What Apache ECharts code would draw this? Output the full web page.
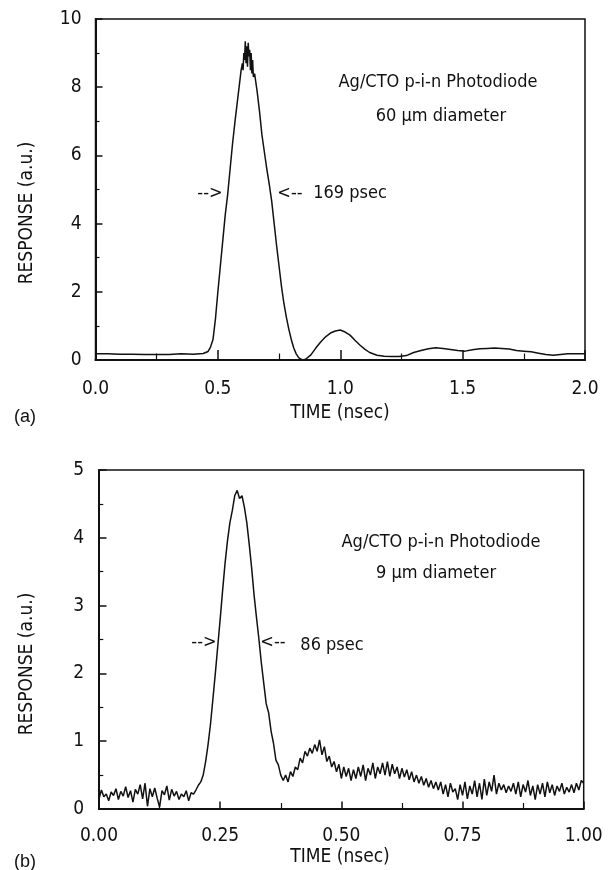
<!DOCTYPE html>
<html>
<head>
<meta charset="utf-8">
<script src="https://cdn.jsdelivr.net/npm/echarts@6/dist/echarts.min.js"></script>
<style>
html,body{margin:0;padding:0;background:#fff;}
#chart{width:608px;height:870px;}
</style>
</head>
<body>
<div id="chart"></div>
<script>
// ---- Panel (a): 60 um diameter ----
var timeA = [0, 0.05, 0.10, 0.15, 0.20, 0.25, 0.30, 0.35, 0.40, 0.44, 0.46, 0.47, 0.48, 0.49, 0.50, 0.51, 0.52, 0.53, 0.54, 0.55, 0.56, 0.57, 0.58, 0.59, 0.595, 0.60, 0.603, 0.606, 0.609, 0.612, 0.615, 0.618, 0.621, 0.624, 0.627, 0.630, 0.633, 0.636, 0.639, 0.642, 0.645, 0.65, 0.66, 0.67, 0.68, 0.69, 0.70, 0.71, 0.72, 0.73, 0.74, 0.75, 0.76, 0.77, 0.78, 0.79, 0.80, 0.81, 0.82, 0.83, 0.84, 0.85, 0.86, 0.88, 0.90, 0.92, 0.94, 0.96, 0.98, 1.00, 1.02, 1.04, 1.06, 1.08, 1.10, 1.12, 1.15, 1.18, 1.21, 1.24, 1.27, 1.30, 1.33, 1.36, 1.39, 1.42, 1.45, 1.48, 1.51, 1.54, 1.57, 1.60, 1.63, 1.66, 1.69, 1.72, 1.75, 1.78, 1.81, 1.84, 1.87, 1.90, 1.93, 1.96, 2.00];
var respA = [0.18, 0.18, 0.17, 0.17, 0.16, 0.16, 0.16, 0.18, 0.17, 0.19, 0.25, 0.38, 0.6, 1.2, 2.0, 2.75, 3.5, 4.25, 4.85, 5.6, 6.35, 7.0, 7.6, 8.2, 8.5, 8.7, 8.5, 9.0, 8.8, 9.35, 8.7, 9.2, 8.6, 9.3, 8.9, 9.1, 8.5, 9.0, 8.4, 8.8, 8.3, 8.4, 7.9, 7.3, 6.6, 6.1, 5.6, 5.15, 4.65, 4.0, 3.35, 2.75, 2.15, 1.65, 1.25, 0.9, 0.6, 0.35, 0.18, 0.07, 0.02, 0.0, 0.03, 0.15, 0.35, 0.53, 0.68, 0.79, 0.85, 0.88, 0.82, 0.73, 0.58, 0.44, 0.32, 0.22, 0.14, 0.11, 0.1, 0.1, 0.13, 0.22, 0.28, 0.33, 0.36, 0.34, 0.31, 0.28, 0.26, 0.3, 0.33, 0.34, 0.35, 0.34, 0.32, 0.28, 0.26, 0.24, 0.2, 0.16, 0.14, 0.16, 0.18, 0.18, 0.18];
var xTicksA = [0, 2, 0.5];   // min, max, interval
var yTicksA = [0, 10, 2];

// ---- Panel (b): 9 um diameter (samples every 0.005 ns from 0 to 1.0) ----
var stepB = 0.005;
var respB = [
  0.15,0.28,0.18,0.22,0.12,0.25,0.20,0.30,0.14,0.26,
  0.19,0.33,0.17,0.27,0.10,0.29,0.22,0.36,0.15,0.38,
  0.04,0.30,0.18,0.31,0.16,0.03,0.27,0.21,0.34,0.13,
  0.29,0.19,0.26,0.14,0.22,0.18,0.27,0.12,0.24,0.22,
  0.28,0.35,0.40,0.50,0.70,0.95,1.25,1.62,2.00,2.40,
  2.80,3.22,3.62,3.95,4.22,4.40,4.62,4.70,4.58,4.62,
  4.45,4.22,3.90,3.55,3.15,2.82,2.50,2.15,1.85,1.55,
  1.42,1.15,0.97,0.72,0.65,0.50,0.42,
  0.50,0.40,0.55,0.48,0.62,0.58,0.75,0.68,0.85,0.78,
  0.90,0.82,0.95,0.85,1.02,0.80,0.92,0.70,0.78,0.62,
  0.70,0.55,0.66,0.45,0.62,0.48,0.60,0.42,0.58,
  0.45,0.62,0.48,0.65,0.42,0.60,0.50,0.68,0.45,0.62,
  0.52,0.68,0.50,0.70,0.48,0.66,0.52,0.62,0.45,0.60,
  0.47,0.58,0.43,0.55,0.40,0.50,0.38,0.48,0.35,0.45,
  0.32,0.42,0.30,0.40,0.28,
  0.40,0.22,0.36,0.18,0.38,0.25,0.30,0.14,0.36,0.20,
  0.40,0.15,0.34,0.22,0.42,0.18,0.38,0.14,0.44,0.20,
  0.40,0.26,0.50,0.22,0.38,0.28,0.36,0.24,0.34,0.26,
  0.38,0.22,0.40,0.18,0.36,0.25,0.42,0.20,0.34,0.14,
  0.36,0.22,0.38,0.18,0.40,0.24,0.36,0.20,0.34,0.26,
  0.38,0.22,0.32,0.25,0.36,0.24,0.38,0.28,0.42,0.38
];
var xTicksB = [0, 1, 0.25];
var yTicksB = [0, 5, 1];

var labelA = ['Ag/CTO p-i-n Photodiode', '60 \u00b5m diameter', '169 psec', '(a)'];
var labelB = ['Ag/CTO p-i-n Photodiode', '9 \u00b5m diameter', '86 psec', '(b)'];
var xName = 'TIME (nsec)';
var yName = 'RESPONSE (a.u.)';

var dataA = timeA.map(function (t, i) { return [t, respA[i]]; });
var dataB = respB.map(function (v, i) { return [+(i * stepB).toFixed(3), v]; });

var FONT = "'Liberation Sans Narrow', 'DejaVu Sans Condensed', 'Arial Narrow', 'Liberation Sans', sans-serif";
var INK = '#111';

function xAxisCfg(gi, tk, dec, margin, majLen, minLen) {
  return {
    gridIndex: gi, type: 'value', min: tk[0], max: tk[1], interval: tk[2],
    axisLine: { show: true, onZero: false, lineStyle: { color: INK, width: 2 } },
    axisTick: { show: true, inside: true, length: majLen, lineStyle: { color: INK, width: 1.5 } },
    minorTick: { show: true, splitNumber: 2, length: minLen, lineStyle: { color: INK, width: 1.2 } },
    splitLine: { show: false },
    axisLabel: { color: INK, fontSize: 19, fontFamily: FONT, margin: margin,
      formatter: function (v) { return v.toFixed(dec); } }
  };
}
function yAxisCfg(gi, tk, margin, majLen, minLen) {
  return {
    gridIndex: gi, type: 'value', min: tk[0], max: tk[1], interval: tk[2],
    axisLine: { show: true, onZero: false, lineStyle: { color: INK, width: 2 } },
    axisTick: { show: true, inside: true, length: majLen, lineStyle: { color: INK, width: 1.5 } },
    minorTick: { show: true, splitNumber: 2, length: minLen, lineStyle: { color: INK, width: 1.2 } },
    splitLine: { show: false },
    axisLabel: { color: INK, fontSize: 19, fontFamily: FONT, margin: margin,
      formatter: function (v) { return String(v); } }
  };
}
function txt(s, x, y, size, align, family, rot) {
  return {
    type: 'text', x: x, y: y, rotation: rot || 0, silent: true,
    style: { text: s, fill: INK, fontSize: size, fontFamily: family || FONT,
      textAlign: align || 'center', textVerticalAlign: 'middle',
      align: align || 'center', verticalAlign: 'middle' }
  };
}

var chart = echarts.init(document.getElementById('chart'), null, { renderer: 'canvas' });
chart.setOption({
  animation: false,
  backgroundColor: '#fff',
  grid: [
    { left: 95.5, top: 19, width: 489.5, height: 341, show: true, borderColor: INK, borderWidth: 1.5, backgroundColor: 'transparent' },
    { left: 99, top: 470, width: 484.7, height: 339, show: true, borderColor: INK, borderWidth: 1.5, backgroundColor: 'transparent' }
  ],
  xAxis: [
    xAxisCfg(0, xTicksA, 1, 20, 10, 6.5),
    xAxisCfg(1, xTicksB, 2, 18, 7.5, 6)
  ],
  yAxis: [
    yAxisCfg(0, yTicksA, 14, 7, 4),
    yAxisCfg(1, yTicksB, 15, 7.5, 4.3)
  ],
  series: [
    { type: 'line', xAxisIndex: 0, yAxisIndex: 0, data: dataA, showSymbol: false, symbol: 'none',
      lineStyle: { color: INK, width: 1.5 }, smooth: false },
    { type: 'line', xAxisIndex: 1, yAxisIndex: 1, data: dataB, showSymbol: false, symbol: 'none',
      lineStyle: { color: INK, width: 1.5 }, smooth: false }
  ],
  graphic: [
    txt(labelA[0], 438, 82, 18),
    txt(labelA[1], 441, 116, 18),
    txt(labelA[2], 350, 193, 18),
    txt('-->', 210, 193, 18),
    txt('<--', 290, 193, 18),
    txt(xName, 340, 413, 19),
    txt(yName, 27.5, 213, 19, 'center', FONT, Math.PI / 2),
    txt(labelA[3], 25, 417, 18, 'center', "'Liberation Sans', Arial, sans-serif"),

    txt(labelB[0], 441, 542, 18),
    txt(labelB[1], 436, 573, 18),
    txt(labelB[2], 332, 645, 18),
    txt('-->', 204, 642, 18),
    txt('<--', 273, 642, 18),
    txt(xName, 340, 857, 19),
    txt(yName, 27.5, 664, 19, 'center', FONT, Math.PI / 2),
    txt(labelB[3], 25, 862, 18, 'center', "'Liberation Sans', Arial, sans-serif")
  ]
});
</script>
</body>
</html>
